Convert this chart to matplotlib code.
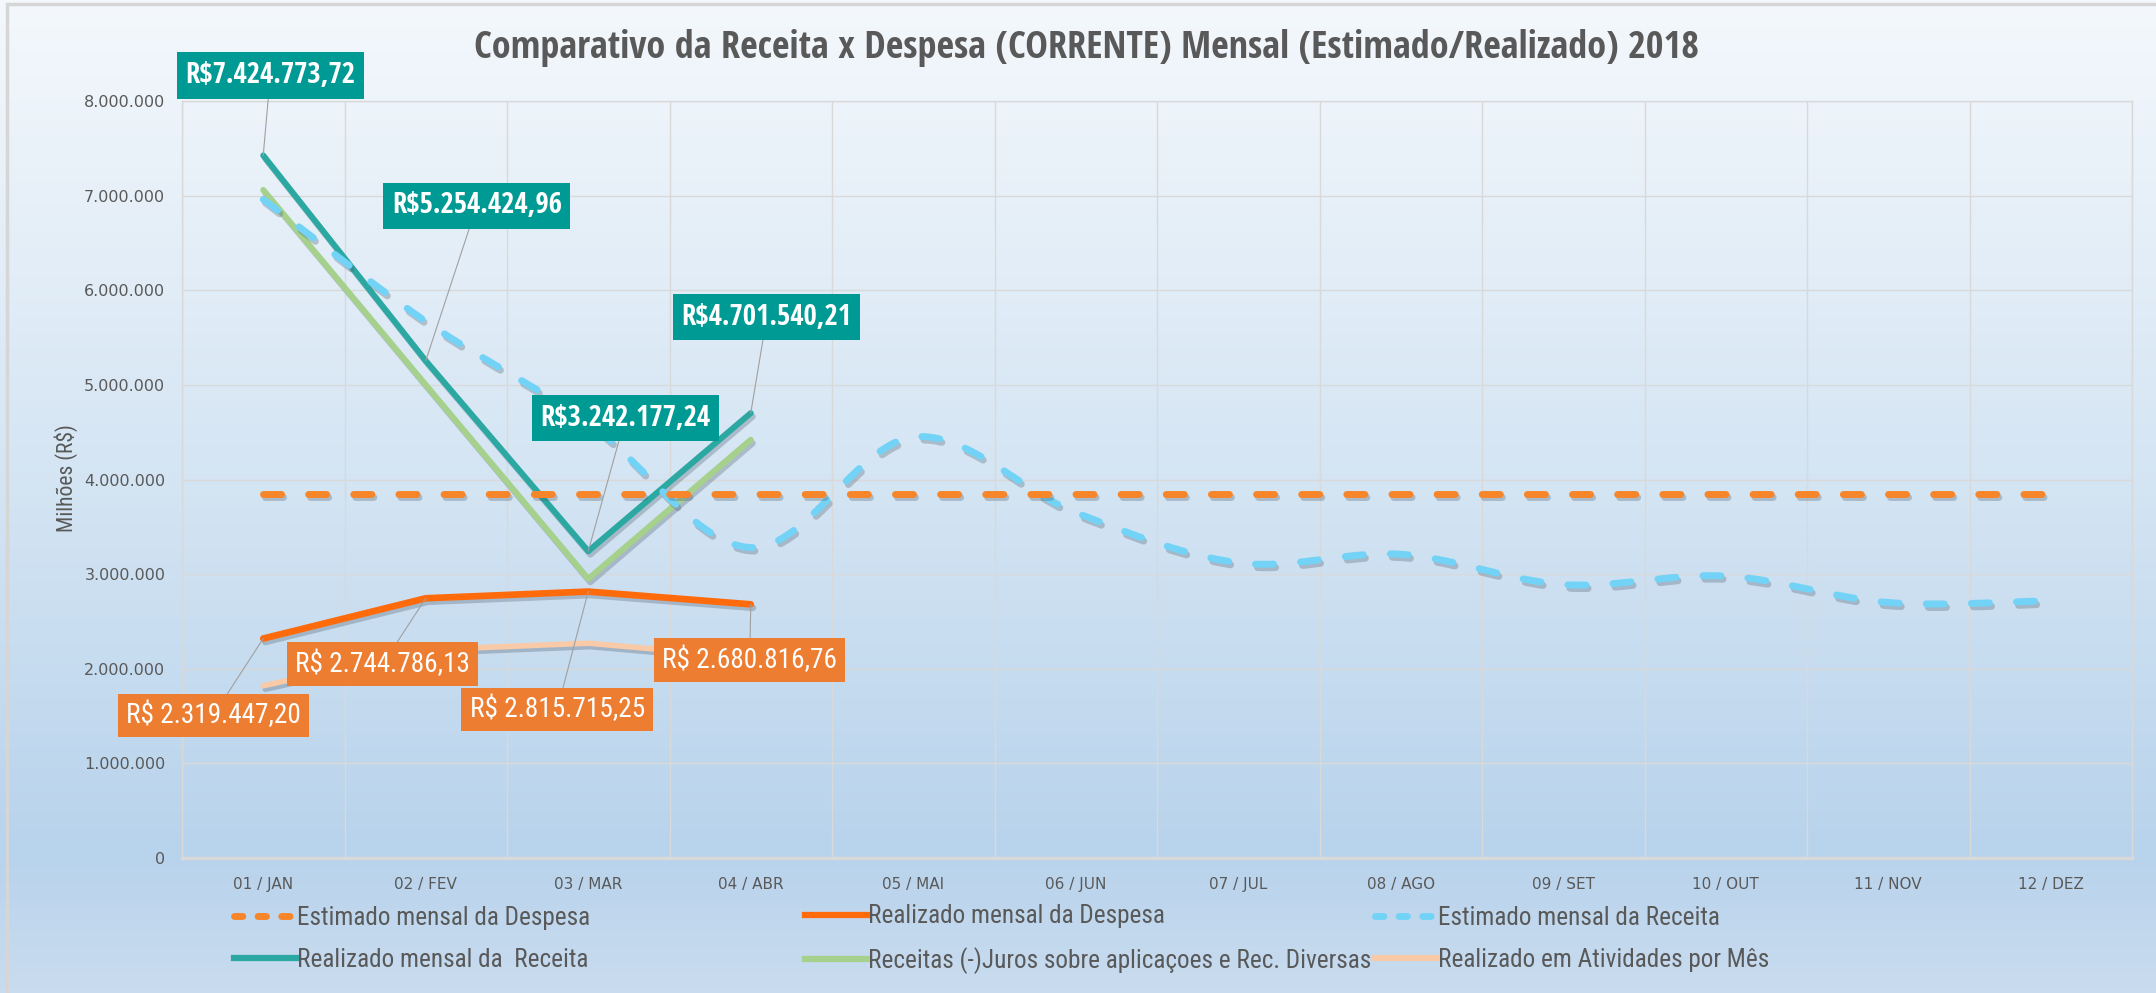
import numpy as np
import matplotlib
matplotlib.use("Agg")
import matplotlib.pyplot as plt
from matplotlib import font_manager, patheffects
from matplotlib.colors import LinearSegmentedColormap
from matplotlib.ticker import FuncFormatter, MultipleLocator
from matplotlib.lines import Line2D
from matplotlib.patches import Rectangle

# ---- data ----
meses = ["01 / JAN", "02 / FEV", "03 / MAR", "04 / ABR", "05 / MAI", "06 / JUN",
         "07 / JUL", "08 / AGO", "09 / SET", "10 / OUT", "11 / NOV", "12 / DEZ"]
estimado_despesa = [3850000, 3850000, 3850000, 3850000, 3850000, 3850000,
                    3850000, 3850000, 3850000, 3850000, 3850000, 3850000]
realizado_despesa = [2319447.20, 2744786.13, 2815715.25, 2680816.76]
estimado_receita = [6960000, 5670000, 4600000, 3280000, 4450000, 3650000,
                    3120000, 3210000, 2890000, 2980000, 2700000, 2720000]
realizado_receita = [7424773.72, 5254424.96, 3242177.24, 4701540.21]
receitas_juros = [7060000, 5000000, 2950000, 4420000]
atividades = [1820000, 2200000, 2270000, 2120000]

titulo = "Comparativo da Receita x Despesa (CORRENTE) Mensal (Estimado/Realizado) 2018"
legendas = ["Estimado mensal da Despesa", "Realizado mensal da Despesa",
            "Estimado mensal da Receita", "Realizado mensal da  Receita",
            "Receitas (-)Juros sobre aplicaçoes e Rec. Diversas",
            "Realizado em Atividades por Mês"]

W, H = 2156, 993
GRAY = "#595959"
C_EST_DESP = "#F7862B"
C_REAL_DESP = "#FF6A0A"
C_EST_REC = "#72D3F7"
C_REAL_REC = "#2CA8A2"
C_JUROS = "#A6D18C"
C_ATIV = "#F8CAA8"
BOX_TEAL = "#009A94"
BOX_ORANGE = "#ED7D31"

# pick a condensed face; regular text needs a family that really has a regular weight
ttf = font_manager.fontManager.ttflist
cands = ["Liberation Sans Narrow", "Open Sans Condensed", "Roboto Condensed"]
NARROW_B = next((n for n in cands if any(f.name == n and f.weight >= 600 for f in ttf)),
                "Liberation Sans")
NARROW_R = next((n for n in cands if any(f.name == n and 350 <= f.weight <= 500 for f in ttf)),
                "Liberation Sans")
WIDE = "DejaVu Sans"


def brl(v):
    s = f"{v:,.2f}"
    return s.replace(",", "X").replace(".", ",").replace("X", ".")


def smooth(xs, ys, n=30):
    # bezier smoothing through the points, like a spreadsheet "smoothed line"
    p = np.column_stack([xs, ys]).astype(float)
    p = np.vstack([p[0], p, p[-1]])
    out = []
    for i in range(1, len(p) - 2):
        p0, p1, p2, p3 = p[i - 1], p[i], p[i + 1], p[i + 2]
        c1 = p1 + (p2 - p0) / 6
        c2 = p2 - (p3 - p1) / 6
        t = np.linspace(0, 1, n)[:, None]
        seg = ((1 - t) ** 3) * p1 + 3 * ((1 - t) ** 2) * t * c1 + 3 * (1 - t) * t ** 2 * c2 + t ** 3 * p2
        out.append(seg if i == 1 else seg[1:])
    seg = np.vstack(out)
    return seg[:, 0], seg[:, 1]


fig = plt.figure(figsize=(W / 100, H / 100), dpi=100)
renderer = fig.canvas.get_renderer()


def fit_size(txt, target_px, **kw):
    t = fig.text(0, 0, txt, fontsize=10, **kw)
    w = t.get_window_extent(renderer=renderer).width
    t.remove()
    return 10 * target_px / w


# background gradient
bg = fig.add_axes([0, 0, 1, 1], zorder=-10)
cmap = LinearSegmentedColormap.from_list(
    "bg", [(0, "#F4F8FC"), (0.5, "#D3E4F3"), (0.86, "#B8D3EC"), (1, "#C9DCEF")])
bg.imshow(np.linspace(0, 1, 256)[:, None], aspect="auto", cmap=cmap, extent=[0, 1, 0, 1])
bg.axis("off")
fig.patches.append(Rectangle((7 / W, -0.02), 1.05, 1 - 4 / H + 0.02, transform=fig.transFigure,
                             fill=False, ec="#D6D6D6", lw=2.5, zorder=-5))

ax = fig.add_axes([182 / W, 1 - 858 / H, (2132 - 182) / W, (858 - 101) / H])
ax.set_facecolor("none")
x = np.arange(len(meses))
ax.set_xlim(-0.5, 11.5)
ax.set_ylim(0, 8000000)
ax.yaxis.set_major_locator(MultipleLocator(1000000))
ax.yaxis.set_major_formatter(FuncFormatter(lambda v, p: f"{v:,.0f}".replace(",", ".")))
ax.set_xticks(x)
ax.set_xticklabels(meses)
ax.set_xticks(np.arange(-0.5, 12, 1), minor=True)
ax.tick_params(which="both", length=0)
ax.tick_params(axis="y", pad=12, labelsize=11.5, labelcolor=GRAY)
ax.tick_params(axis="x", pad=14, labelsize=11, labelcolor=GRAY)
for lab in ax.get_xticklabels() + ax.get_yticklabels():
    lab.set_family(WIDE)
ax.grid(True, axis="y", which="major", color="#D9D9D9", lw=1)
ax.grid(True, axis="x", which="minor", color="#D9D9D9", lw=1)
ax.grid(False, axis="x", which="major")
for s in ax.spines.values():
    s.set_color("#D9D9D9")
    s.set_linewidth(1)
ax.spines["bottom"].set_linewidth(2.5)

shadow = [patheffects.SimpleLineShadow(offset=(1.5, -2.5), shadow_color="#4A5A6A", alpha=0.3),
          patheffects.Normal()]
dash = (0, (2.6, 3.9))

x4 = x[:4]
ax.plot(x4, realizado_receita, color=C_REAL_REC, lw=4.3, solid_capstyle="round",
        path_effects=shadow, zorder=3)
ax.plot(x4, receitas_juros, color=C_JUROS, lw=4.3, solid_capstyle="round",
        path_effects=shadow, zorder=3)
ax.plot(x4, atividades, color=C_ATIV, lw=4, solid_capstyle="round",
        path_effects=shadow, zorder=3)
ax.plot(x4, realizado_despesa, color=C_REAL_DESP, lw=4.8, solid_capstyle="round",
        path_effects=shadow, zorder=3)
sx, sy = smooth(x, estimado_receita)
ax.plot(sx, sy, color=C_EST_REC, lw=5, linestyle=dash, dash_capstyle="round",
        path_effects=shadow, zorder=4)
ax.plot(x, estimado_despesa, color=C_EST_DESP, lw=5, linestyle=dash, dash_capstyle="round",
        path_effects=shadow, zorder=4)

# data labels
teal_fs = fit_size("R$7.424.773,72", 170, family=NARROW_B, weight="bold")
orange_fs = fit_size("R$ 2.319.447,20", 174, family=NARROW_R)
teal_off = [(7, -80), (51, -155), (37, -133), (16, -96)]
orange_off = [(-50, 77), (-43, 66), (-31, 118), (-1, 56)]
for i, v in enumerate(realizado_receita):
    dx, dy = teal_off[i]
    ax.annotate("R$" + brl(v), xy=(x[i], v), xytext=(dx * 0.72, -dy * 0.72),
                textcoords="offset points", ha="center", va="center", color="white",
                fontsize=teal_fs, family=NARROW_B, weight="bold", zorder=10,
                annotation_clip=False,
                bbox=dict(boxstyle="square,pad=0.3", fc=BOX_TEAL, ec="none"),
                arrowprops=dict(arrowstyle="-", color="#A0A0A0", lw=0.8, shrinkA=0, shrinkB=0))
for i, v in enumerate(realizado_despesa):
    dx, dy = orange_off[i]
    ax.annotate("R$ " + brl(v), xy=(x[i], v), xytext=(dx * 0.72, -dy * 0.72),
                textcoords="offset points", ha="center", va="center", color="white",
                fontsize=orange_fs, family=NARROW_R, zorder=10, annotation_clip=False,
                bbox=dict(boxstyle="square,pad=0.3", fc=BOX_ORANGE, ec="none"),
                arrowprops=dict(arrowstyle="-", color="#A0A0A0", lw=0.8, shrinkA=0, shrinkB=0))

# title and axis label
title_fs = fit_size(titulo, 1224, family=NARROW_B, weight="bold")
fig.text(1086 / W, 1 - 48 / H, titulo, ha="center", va="center", fontsize=title_fs,
         family=NARROW_B, weight="bold", color=GRAY)
ylab_fs = fit_size("Milhões (R$)", 108, family=NARROW_R)
fig.text(66 / W, 1 - 478 / H, "Milhões (R$)", rotation=90, ha="center", va="center",
         fontsize=ylab_fs, family=NARROW_R, color=GRAY)

# legend: three columns of two rows
leg_fs = fit_size(legendas[4], 500, family=NARROW_R)
fs_px = leg_fs * 100 / 72
handles = [
    Line2D([], [], color=C_EST_DESP, lw=5, linestyle=(0, (1.2, 2.2)), dash_capstyle="round"),
    Line2D([], [], color=C_REAL_DESP, lw=4.5),
    Line2D([], [], color=C_EST_REC, lw=5, linestyle=(0, (1.2, 2.2)), dash_capstyle="round"),
    Line2D([], [], color=C_REAL_REC, lw=4.5),
    Line2D([], [], color=C_JUROS, lw=4.5),
    Line2D([], [], color=C_ATIV, lw=4.5),
]
col_x = [234, 805, 1375]
for c in range(3):
    idx = [c, c + 3]
    leg = fig.legend([handles[k] for k in idx], [legendas[k] for k in idx],
                     loc="center left", bbox_to_anchor=(col_x[c] / W, 1 - 939 / H),
                     frameon=False, borderpad=0, borderaxespad=0,
                     handlelength=62 / fs_px, handletextpad=0.05,
                     labelspacing=46 / fs_px - 1.1,
                     prop={"family": NARROW_R, "size": leg_fs})
    for t in leg.get_texts():
        t.set_color(GRAY)

fig.savefig("out.png", dpi=100)
